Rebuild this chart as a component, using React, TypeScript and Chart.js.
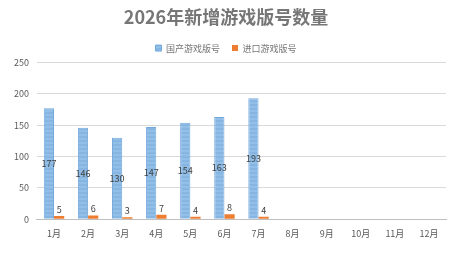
import React, { useEffect, useRef } from "react";
import { Chart, registerables } from "chart.js";

Chart.register(...registerables);

const TITLE = "2026年新增游戏版号数量";
const MONTHS = ["1月", "2月", "3月", "4月", "5月", "6月", "7月", "8月", "9月", "10月", "11月", "12月"];
const DOMESTIC_LABEL = "国产游戏版号";
const IMPORT_LABEL = "进口游戏版号";
const DOMESTIC = [177, 146, 130, 147, 154, 163, 193, null, null, null, null, null];
const IMPORTED = [5, 6, 3, 7, 4, 8, 4, null, null, null, null, null];
const Y_MAX = 250;
const Y_STEP = 50;

const FONT = "'Microsoft YaHei', 'Noto Sans CJK SC', 'Noto Sans', sans-serif";

function makeStripePattern(): CanvasPattern | string {
  const c = document.createElement("canvas");
  c.width = 4;
  c.height = 4;
  const ctx = c.getContext("2d");
  if (!ctx) return "#8dbbe5";
  ctx.fillStyle = "#92bfe8";
  ctx.fillRect(0, 0, 4, 4);
  ctx.fillStyle = "#86b5e2";
  ctx.fillRect(0, 0, 4, 2);
  const p = ctx.createPattern(c, "repeat");
  return p || "#8dbbe5";
}

const labelPlugin = {
  id: "valueLabels",
  afterDatasetsDraw(chart: any) {
    const ctx = chart.ctx;
    ctx.save();
    ctx.font = `9px ${FONT}`;
    ctx.fillStyle = "#404040";
    ctx.textAlign = "center";
    chart.data.datasets.forEach((ds: any, di: number) => {
      const meta = chart.getDatasetMeta(di);
      meta.data.forEach((bar: any, i: number) => {
        const v = ds.data[i];
        if (v == null) return;
        if (di === 0) {
          ctx.textBaseline = "middle";
          ctx.fillText(String(v), bar.x, (bar.y + bar.base) / 2);
        } else {
          ctx.textBaseline = "bottom";
          ctx.fillText(String(v), bar.x, bar.y - 2);
        }
      });
    });
    ctx.restore();
  },
};

export default function App() {
  const ref = useRef<HTMLCanvasElement>(null);
  useEffect(() => {
    if (!ref.current) return;
    const chart = new Chart(ref.current, {
      type: "bar",
      data: {
        labels: MONTHS,
        datasets: [
          {
            label: DOMESTIC_LABEL,
            data: DOMESTIC,
            backgroundColor: makeStripePattern() as any,
            borderColor: "#74a9dc",
            borderWidth: 1,
            categoryPercentage: 0.6,
            barPercentage: 1,
          },
          {
            label: IMPORT_LABEL,
            data: IMPORTED,
            backgroundColor: "#ed7d31",
            borderColor: "#ed7d31",
            borderWidth: 0,
            categoryPercentage: 0.6,
            barPercentage: 1,
          },
        ],
      },
      options: {
        responsive: false,
        animation: false,
        layout: { padding: { left: 6, right: 14, top: 4, bottom: 12 } },
        plugins: {
          title: {
            display: true,
            text: TITLE,
            color: "#767676",
            font: { family: FONT, size: 18, weight: "bold" },
            padding: { top: 2, bottom: 4 },
          },
          legend: {
            display: true,
            labels: {
              color: "#767676",
              font: { family: FONT, size: 9 },
              boxWidth: 6,
              boxHeight: 6,
              padding: 12,
            },
          },
          tooltip: { enabled: false },
        },
        scales: {
          x: {
            grid: { display: false, drawTicks: false },
            border: { display: true, color: "#bfbfbf" },
            ticks: { color: "#595959", font: { family: FONT, size: 9 }, padding: 9 },
          },
          y: {
            min: 0,
            max: Y_MAX,
            grid: { color: "#d9d9d9", drawTicks: false },
            border: { display: false },
            ticks: { stepSize: Y_STEP, color: "#595959", font: { family: FONT, size: 9 }, padding: 8 },
          },
        },
      },
      plugins: [labelPlugin],
    });
    return () => chart.destroy();
  }, []);
  return (
    <div style={{ position: "absolute", left: 0, top: 0, width: 460, height: 260, background: "#fff" }}>
      <canvas ref={ref} width={460} height={260} />
    </div>
  );
}
